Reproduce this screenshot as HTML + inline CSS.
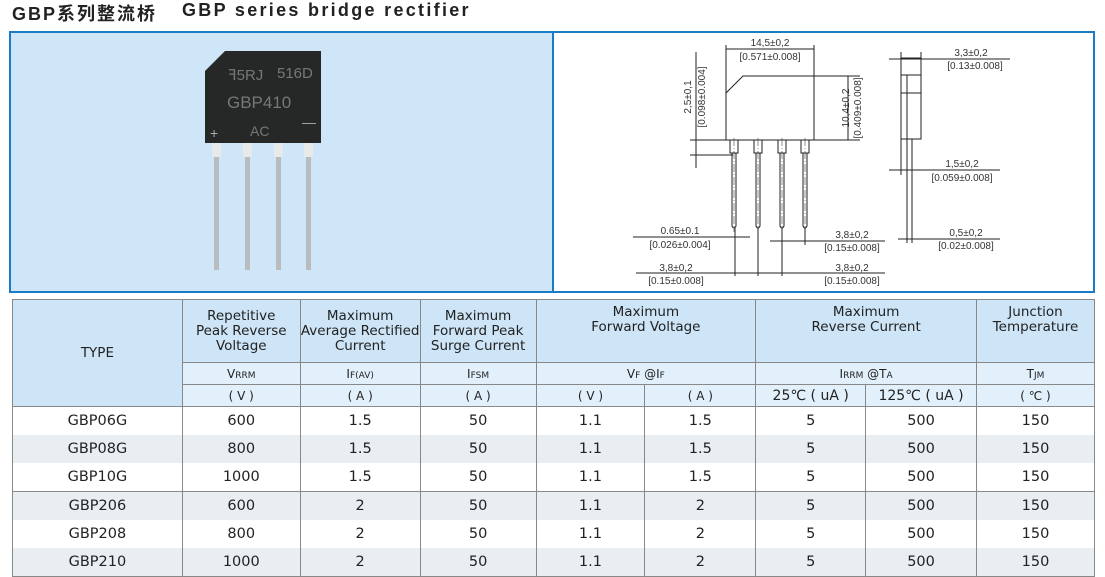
<!DOCTYPE html>
<html><head><meta charset="utf-8"><style>
body{margin:0;width:1105px;height:577px;background:#fff;overflow:hidden;font-family:"Liberation Sans","Noto Sans CJK SC",sans-serif;position:relative}
.title{position:absolute;top:0px;font-size:18px;font-weight:bold;color:#222;white-space:nowrap}
.frame{position:absolute;left:9px;top:31px;width:1082px;height:258px;border:2px solid #1a7cc4}
.lp{position:absolute;left:0;top:0;width:541px;height:258px;background:#cfe6f8;border-right:2px solid #1a7cc4}
svg text{font-family:"Liberation Sans",sans-serif}
table{position:absolute;left:12px;top:299px;border-collapse:collapse;width:1083px;font-family:"DejaVu Sans","Liberation Sans",sans-serif;color:#222}
td{border:1px solid #888;text-align:center;padding:0;font-size:14px}
tr.h1 td{background:#cde5f7;height:57px;font-size:13.5px;line-height:15px}
tr.h2 td,tr.h3 td{background:#e1f0fb;height:21px;font-size:12px}
tr.d td{height:28px;font-size:14.5px;border-top:none;border-bottom:none}
tr.g td{background:#e8eef2}
tr.sep td{border-top:1px solid #888}
tr.last td{border-bottom:1px solid #888}
small{font-size:9px}
</style></head><body>
<div class="title" style="left:12px;letter-spacing:2px">GBP系列整流桥</div>
<div class="title" style="left:182px;letter-spacing:2.3px">GBP series bridge rectifier</div>
<div class="frame"><div class="lp"></div></div>
<svg width="1105" height="300" style="position:absolute;left:0;top:0">
 <g>
  <rect x="212" y="143" width="9" height="14" fill="#e8eaea"/><rect x="243" y="143" width="9" height="14" fill="#e8eaea"/><rect x="274" y="143" width="9" height="14" fill="#e8eaea"/><rect x="304" y="143" width="9" height="14" fill="#e8eaea"/>
  <rect x="214" y="157" width="5" height="113" fill="#b9bcbf"/><rect x="245" y="157" width="5" height="113" fill="#b9bcbf"/><rect x="276" y="157" width="5" height="113" fill="#b9bcbf"/><rect x="306" y="157" width="5" height="113" fill="#b9bcbf"/>
  <polygon points="225,51 321,51 321,143 205,143 205,71" fill="#262827"/>
  <text x="228" y="80" fill="#777" font-size="15">ꟻ5RJ</text><text x="277" y="78" fill="#777" font-size="15">516D</text>
  <text x="227" y="108" fill="#777" font-size="17">GBP410</text>
  <text x="250" y="136" fill="#777" font-size="14">AC</text>
  <text x="210" y="138" fill="#aaa" font-size="14">+</text><text x="302" y="127" fill="#aaa" font-size="14">—</text>
 </g>
 <g stroke="#222" stroke-width="1" fill="none">
  <polygon points="743,76 814,76 814,140 726,140 726,93"/>
  <line x1="726" y1="45" x2="726" y2="93"/>
  <line x1="814" y1="45" x2="814" y2="76"/>
  <line x1="726" y1="49" x2="814" y2="49"/>
  <line x1="696" y1="52" x2="696" y2="168"/>
  <line x1="690" y1="140" x2="726" y2="140"/><line x1="690" y1="155" x2="733" y2="155"/>
  <line x1="848" y1="76" x2="848" y2="140"/>
  <line x1="814" y1="76" x2="860" y2="76"/><line x1="814" y1="140" x2="860" y2="140"/>
  <g>
   <rect x="730" y="140" width="8" height="13"/><rect x="754" y="140" width="8" height="13"/><rect x="778" y="140" width="8" height="13"/><rect x="801" y="140" width="8" height="13"/>
   <path d="M732,153 V226 Q734,230 736,226 V153"/><path d="M756,153 V226 Q758,230 760,226 V153"/><path d="M780,153 V226 Q782,230 784,226 V153"/><path d="M803,153 V226 Q805,230 807,226 V153"/>
  </g>
  <g stroke-dasharray="8,2,1,2" stroke-width="0.5"><line x1="734" y1="138" x2="734" y2="232"/><line x1="758" y1="138" x2="758" y2="232"/><line x1="782" y1="138" x2="782" y2="232"/><line x1="805" y1="138" x2="805" y2="232"/></g>
  <line x1="735" y1="228" x2="735" y2="276"/><line x1="758" y1="228" x2="758" y2="276"/><line x1="782" y1="228" x2="782" y2="276"/><line x1="805" y1="228" x2="805" y2="245"/>
  <line x1="633" y1="237" x2="750" y2="237"/><line x1="770" y1="241" x2="885" y2="241"/>
  <line x1="636" y1="273" x2="885" y2="273"/>
  <rect x="901" y="58" width="20" height="81"/>
  <line x1="901" y1="75" x2="921" y2="75"/><line x1="901" y1="93" x2="921" y2="93"/><line x1="907" y1="75" x2="907" y2="243"/><line x1="912" y1="139" x2="912" y2="243"/>
  <line x1="889" y1="59" x2="1010" y2="59"/><line x1="901" y1="52" x2="901" y2="58"/><line x1="921" y1="52" x2="921" y2="58"/>
  <line x1="889" y1="170" x2="1000" y2="170"/><line x1="901" y1="139" x2="901" y2="175"/>
  <line x1="898" y1="239" x2="1000" y2="239"/>
 </g>
 <g fill="#333" font-size="10" text-anchor="middle">
  <text x="770" y="46">14,5±0,2</text><text x="770" y="60">[0.571±0.008]</text>
  <text transform="translate(691,97) rotate(-90)">2,5±0,1</text><text transform="translate(705,97) rotate(-90)">[0.098±0.004]</text>
  <text transform="translate(849,108) rotate(-90)">10,4±0,2</text><text transform="translate(861,108) rotate(-90)">[0.409±0.008]</text>
  <text x="680" y="234">0.65±0.1</text><text x="680" y="248">[0.026±0.004]</text>
  <text x="852" y="238">3,8±0,2</text><text x="852" y="251">[0.15±0.008]</text>
  <text x="676" y="271">3,8±0,2</text><text x="676" y="284">[0.15±0.008]</text>
  <text x="852" y="271">3,8±0,2</text><text x="852" y="284">[0.15±0.008]</text>
  <text x="971" y="56">3,3±0,2</text><text x="975" y="69">[0.13±0.008]</text>
  <text x="962" y="167">1,5±0,2</text><text x="962" y="181">[0.059±0.008]</text>
  <text x="966" y="236">0,5±0,2</text><text x="966" y="249">[0.02±0.008]</text>
 </g>
</svg>
<table>
<colgroup><col style="width:170px"><col style="width:118px"><col style="width:120px"><col style="width:116px"><col style="width:109px"><col style="width:111px"><col style="width:110px"><col style="width:111px"><col style="width:118px"></colgroup>
<tr class="h1"><td rowspan="3">TYPE</td><td>Repetitive<br>Peak Reverse<br>Voltage</td><td>Maximum<br>Average Rectified<br>Current</td><td>Maximum<br>Forward Peak<br>Surge Current</td><td colspan="2" style="vertical-align:top;padding-top:5px">Maximum<br>Forward Voltage</td><td colspan="2" style="vertical-align:top;padding-top:5px">Maximum<br>Reverse Current</td><td style="vertical-align:top;padding-top:5px">Junction<br>Temperature</td></tr>
<tr class="h2"><td>V<small>RRM</small></td><td>I<small>F(AV)</small></td><td>I<small>FSM</small></td><td colspan="2">V<small>F</small> @I<small>F</small></td><td colspan="2">I<small>RRM</small> @T<small>A</small></td><td>T<small>JM</small></td></tr>
<tr class="h3"><td>( V )</td><td>( A )</td><td>( A )</td><td>( V )</td><td>( A )</td><td style="font-size:14px">25℃ ( uA )</td><td style="font-size:14px">125℃ ( uA )</td><td>( ℃ )</td></tr>
<tr class="d"><td>GBP06G</td><td>600</td><td>1.5</td><td>50</td><td>1.1</td><td>1.5</td><td>5</td><td>500</td><td>150</td></tr>
<tr class="d g"><td>GBP08G</td><td>800</td><td>1.5</td><td>50</td><td>1.1</td><td>1.5</td><td>5</td><td>500</td><td>150</td></tr>
<tr class="d"><td>GBP10G</td><td>1000</td><td>1.5</td><td>50</td><td>1.1</td><td>1.5</td><td>5</td><td>500</td><td>150</td></tr>
<tr class="d g sep"><td>GBP206</td><td>600</td><td>2</td><td>50</td><td>1.1</td><td>2</td><td>5</td><td>500</td><td>150</td></tr>
<tr class="d"><td>GBP208</td><td>800</td><td>2</td><td>50</td><td>1.1</td><td>2</td><td>5</td><td>500</td><td>150</td></tr>
<tr class="d g last"><td>GBP210</td><td>1000</td><td>2</td><td>50</td><td>1.1</td><td>2</td><td>5</td><td>500</td><td>150</td></tr>
</table>
</body></html>
